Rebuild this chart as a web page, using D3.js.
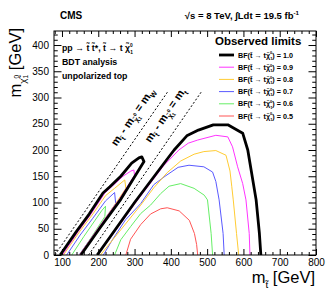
<!DOCTYPE html>
<html>
<head>
<meta charset="utf-8">
<script src="https://cdn.jsdelivr.net/npm/d3@7"></script>
<style>
  body { margin: 0; background: #fff; }
  text { font-family: "Liberation Sans", Arial, Helvetica, sans-serif; }
</style>
</head>
<body>
<div id="content"></div>
<script>
// axis ticks
const xMajor = [100, 200, 300, 400, 500, 600, 700, 800];
const yMajor = [0, 50, 100, 150, 200, 250, 300, 350, 400];

// branching fractions in the legend
const bfValues = ["1.0", "0.9", "0.8", "0.7", "0.6", "0.5"];

// observed limit contours, [m_stop, m_LSP] in GeV; left band + main region
const obs10 = [
  [[95,0],[140,45],[175,78],[213,118],[232,130],[262,150],[292,175],[312,185],[320,187],[326,178],[262,106],[205,52],[152,0]],
  [[197,0],[300,100],[388,181],[409,200],[444,227],[476,238],[517,248],[557,248],[598,232],[612,200],[635,105],[644,41],[648,0]]
];
const obs09 = [
  [[101,0],[145,45],[180,78],[218,118],[240,132],[268,150],[290,160],[298,162],[300,152],[258,106],[200,51],[149,0]],
  [[199,0],[300,97],[380,170],[422,200],[448,213],[474,219],[524,228],[557,225],[570,206],[584,168],[598,136],[607,105],[616,41],[618,0]]
];
const obs08 = [
  [[104,0],[148,44],[183,76],[220,113],[245,127],[273,143],[276,127],[245,95],[200,51],[148,0]],
  [[206,0],[262,48],[317,95],[353,128],[390,157],[427,179],[464,192],[491,197],[524,199],[552,190],[563,160],[568,130],[572,105],[581,41],[587,0]]
];
const obs07 = [
  [[113,0],[150,38],[185,70],[220,103],[245,119],[248,98],[200,51],[147,0]],
  [[214,0],[239,29],[275,67],[317,98],[353,134],[384,150],[420,167],[450,171],[491,168],[515,158],[524,140],[533,105],[544,41],[547,0]]
];
const obs06 = [
  [[127,0],[160,35],[190,65],[210,85],[220,93],[218,73],[185,38],[149,0]],
  [[245,0],[262,29],[289,54],[317,79],[344,95],[372,117],[395,131],[427,136],[464,127],[492,114],[501,105],[511,41],[515,0]]
];
const obs05 = [
  [[276,0],[289,30],[317,58],[344,78],[372,88],[390,90],[423,84],[451,66],[465,41],[471,20],[474,0]]
];
const contours = [obs10, obs09, obs08, obs07, obs06, obs05];

// kinematic boundaries m_stop - m_LSP = dm
const kinDm = [80.4, 173.3];
const kinMaxLsp = 310;

const lineColors = ["#000000", "#ff33ff", "#ffcc33", "#5a5aff", "#66ee66", "#ff5555"];
const lineWidths = [2.8, 1, 1, 1, 1, 1];

var width = 332, height = 294;
var svg = d3.select("#content").append("svg")
    .attr("width", width)
    .attr("height", height);

var x = d3.scaleLinear().domain([78, 800]).range([54, 316]);
var y = d3.scaleLinear().domain([0, 426.7]).range([255, 31]);

var xMinor = d3.range(80, 801, 20).filter(v => xMajor.indexOf(v) < 0);
var yMinor = d3.range(0, 421, 10).filter(v => yMajor.indexOf(v) < 0);

svg.append("clipPath").attr("id", "plotclip")
  .append("rect")
    .attr("x", x.range()[0]).attr("y", y.range()[1])
    .attr("width", x.range()[1] - x.range()[0])
    .attr("height", y.range()[0] - y.range()[1]);

var plot = svg.append("g").attr("clip-path", "url(#plotclip)");

var line = d3.line().x(d => x(d[0])).y(d => y(d[1]));

// contours, weakest first so the black sits on top
for (var i = contours.length - 1; i >= 0; i--) {
  contours[i].forEach(function (loop) {
    plot.append("path")
      .datum(loop)
      .attr("d", line)
      .attr("fill", "none")
      .attr("stroke", lineColors[i])
      .attr("stroke-width", lineWidths[i])
      .attr("stroke-linejoin", "round");
  });
}

// dashed kinematic lines
kinDm.forEach(function (dm) {
  plot.append("path")
    .datum([[dm, 0], [dm + kinMaxLsp, kinMaxLsp]])
    .attr("d", line)
    .attr("fill", "none")
    .attr("stroke", "#000")
    .attr("stroke-width", 1)
    .attr("stroke-dasharray", "2,2");
});

// helper for sub/superscripts
function rich(sel, parts, fs) {
  parts.forEach(function (p) {
    sel.append("tspan")
      .text(p.t)
      .attr("font-size", (p.s || 1) * fs)
      .attr("dx", (p.dx || 0) * fs)
      .attr("dy", (p.dy || 0) * fs);
  });
}

// labels along the dashed lines
var angle = -Math.atan((y(0) - y(100)) / (x(200) - x(100))) * 180 / Math.PI;
var kinLabelPos = [[250, 206], [343, 213]];
var kinSub = ["W", "t"];
kinLabelPos.forEach(function (p, k) {
  var t = svg.append("text")
    .attr("transform", "translate(" + x(p[0]) + "," + y(p[1]) + ") rotate(" + angle + ")")
    .attr("font-weight", "bold")
    .attr("font-size", 11);
  rich(t, [
    {t: "m"}, {t: "t\u0303", s: 0.65, dy: 0.3},
    {t: " - m", dy: -0.3}, {t: "\u03c7\u0303", s: 0.65, dy: 0.3},
    {t: "0", s: 0.45, dy: -0.45}, {t: "1", s: 0.45, dx: -0.25, dy: 0.6},
    {t: " = m", dy: -0.45}, {t: kinSub[k], s: 0.65, dy: 0.3}
  ], 11);
});

// axes (ticks pointing inward, ROOT style)
function tickStyle(g) {
  g.select(".domain").remove();
  g.selectAll("line").attr("stroke", "#000").attr("stroke-width", 1);
  g.selectAll("text").attr("fill", "#000").attr("font-size", 10)
    .attr("font-family", "Liberation Sans, Arial, sans-serif");
}

svg.append("g").attr("transform", "translate(0," + y.range()[0] + ")")
  .call(d3.axisBottom(x).tickValues(xMajor).tickSizeInner(-6).tickSizeOuter(0).tickPadding(3.5).tickFormat(d3.format("d")))
  .call(tickStyle);
svg.append("g").attr("transform", "translate(0," + y.range()[0] + ")")
  .call(d3.axisBottom(x).tickValues(xMinor).tickSize(-3).tickFormat(""))
  .call(tickStyle);
svg.append("g").attr("transform", "translate(0," + y.range()[1] + ")")
  .call(d3.axisTop(x).tickValues(xMajor).tickSize(-6).tickFormat(""))
  .call(tickStyle);
svg.append("g").attr("transform", "translate(0," + y.range()[1] + ")")
  .call(d3.axisTop(x).tickValues(xMinor).tickSize(-3).tickFormat(""))
  .call(tickStyle);

svg.append("g").attr("transform", "translate(" + x.range()[0] + ",0)")
  .call(d3.axisLeft(y).tickValues(yMajor).tickSizeInner(-7.5).tickSizeOuter(0).tickPadding(5).tickFormat(d3.format("d")))
  .call(tickStyle);
svg.append("g").attr("transform", "translate(" + x.range()[0] + ",0)")
  .call(d3.axisLeft(y).tickValues(yMinor).tickSize(-3.75).tickFormat(""))
  .call(tickStyle);
svg.append("g").attr("transform", "translate(" + x.range()[1] + ",0)")
  .call(d3.axisRight(y).tickValues(yMajor).tickSize(-7.5).tickFormat(""))
  .call(tickStyle);
svg.append("g").attr("transform", "translate(" + x.range()[1] + ",0)")
  .call(d3.axisRight(y).tickValues(yMinor).tickSize(-3.75).tickFormat(""))
  .call(tickStyle);

// frame
svg.append("rect")
  .attr("x", x.range()[0]).attr("y", y.range()[1])
  .attr("width", x.range()[1] - x.range()[0])
  .attr("height", y.range()[0] - y.range()[1])
  .attr("fill", "none").attr("stroke", "#000").attr("stroke-width", 1);

// axis titles
var xt = svg.append("text")
  .attr("x", 315).attr("y", 283)
  .style("text-anchor", "end")
  .attr("font-size", 16.5);
rich(xt, [{t: "m"}, {t: "t\u0303", s: 0.6, dy: 0.3}, {t: "  [GeV]", dy: -0.3}], 16.5);

var yt = svg.append("text")
  .attr("transform", "translate(21,28) rotate(-90)")
  .style("text-anchor", "end")
  .attr("font-size", 16.5);
rich(yt, [{t: "m"}, {t: "\u03c7\u0303", s: 0.6, dy: 0.3},
  {t: "0", s: 0.4, dy: -0.4}, {t: "1", s: 0.4, dx: -0.22, dy: 0.55},
  {t: "  [GeV]", dy: -0.45}], 16.5);

// header
svg.append("text")
  .attr("x", 60).attr("y", 19)
  .attr("font-weight", "bold").attr("font-size", 10)
  .text("CMS");
var hd = svg.append("text")
  .attr("x", 299).attr("y", 19)
  .style("text-anchor", "end")
  .attr("font-weight", "bold").attr("font-size", 9.5);
rich(hd, [{t: "\u221as = 8 TeV, \u222bLdt = 19.5 fb"}, {t: "-1", s: 0.65, dy: -0.4}], 9.5);

// analysis info
var info = svg.append("g").attr("font-weight", "bold").attr("font-size", 8.8);
var l1 = info.append("text").attr("x", 62).attr("y", 51);
rich(l1, [{t: "pp \u2192 t\u0303 t\u0303*, t\u0303 \u2192 t \u03c7\u0303"},
  {t: "0", s: 0.55, dy: -0.45}, {t: "1", s: 0.55, dx: -0.3, dy: 0.75}], 8.8);
info.append("text").attr("x", 62).attr("y", 65).text("BDT analysis");
info.append("text").attr("x", 62).attr("y", 79).text("unpolarized top");

// legend
svg.append("text")
  .attr("x", 215).attr("y", 45)
  .attr("font-weight", "bold").attr("font-size", 11.5)
  .text("Observed limits");

bfValues.forEach(function (bf, i) {
  var ly = 55 + i * 12.2;
  svg.append("line")
    .attr("x1", 219).attr("x2", 234)
    .attr("y1", ly).attr("y2", ly)
    .attr("stroke", lineColors[i])
    .attr("stroke-width", lineWidths[i]);
  var t = svg.append("text")
    .attr("x", 238).attr("y", ly + 2.6)
    .attr("font-weight", "bold").attr("font-size", 7.2);
  rich(t, [{t: "BF(t\u0303 \u2192 t\u03c7\u0303"},
    {t: "0", s: 0.55, dy: -0.45}, {t: "1", s: 0.55, dx: -0.3, dy: 0.75},
    {t: ") = " + bf, dy: -0.3}], 7.2);
});
</script>
</body>
</html>
